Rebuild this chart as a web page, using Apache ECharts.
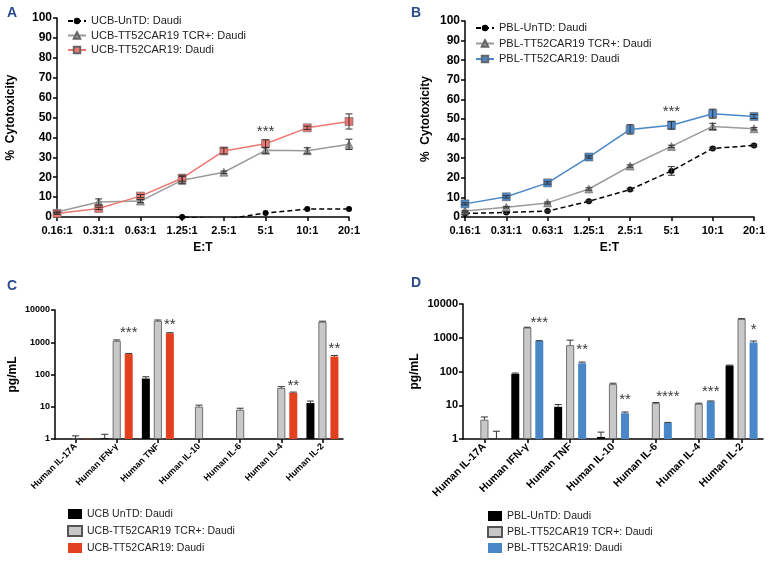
<!DOCTYPE html>
<html><head><meta charset="utf-8">
<script src="https://cdn.jsdelivr.net/npm/echarts@6/dist/echarts.min.js"></script>
<style>html,body{margin:0;padding:0;background:#fff}#c{width:773px;height:562px}</style>
</head><body><div id="c"></div>
<script>
// ---------- data ----------
const ratios = ['0.16:1','0.31:1','0.63:1','1.25:1','2.5:1','5:1','10:1','20:1'];
// Panel A (UCB)
const aUnTD    = [-4, -6, -3, 0, -1.2, 2, 4, 4];
const aTCR     = [2.5, 7.5, 8, 18.5, 22.5, 33.5, 33.3, 36.5];
const aTCRerr  = [0.5, 1.6, 0.8, 1.8, 0.6, 1.5, 1.5, 2.6];
const aCAR     = [1.8, 4.3, 10.5, 19.5, 33.2, 36.8, 44.8, 48];
const aCARerr  = [0.5, 0.6, 0.8, 1.5, 1.5, 2, 0.8, 3.8];
const aStars   = [{cat: 5, value: 43, text: '***'}];
// Panel B (PBL)
const bUnTD    = [1.8, 2.3, 3, 8, 14, 23.5, 35, 36.5];
const bUnTDerr = [0.4, 0.5, 0.4, 0.5, 0.6, 2.2, 0.6, 0.6];
const bTCR     = [3, 5, 7.2, 14.3, 26, 36, 46.2, 45];
const bTCRerr  = [0.4, 0.4, 0.5, 0.6, 0.6, 0.6, 1.6, 0.6];
const bCAR     = [6.7, 10.3, 17.4, 30.6, 44.7, 46.8, 52.7, 51.3];
const bCARerr  = [0.5, 0.6, 0.6, 0.6, 2.4, 2, 2.3, 1];
const bStars   = [{cat: 5, value: 53.5, text: '***'}];
// Panels C & D (cytokines, pg/mL)
const cytokines = ['Human IL-17A','Human IFN-γ','Human TNF','Human IL-10','Human IL-6','Human IL-4','Human IL-2'];
const cUnTD    = [null, 1.05, 75, null, null, null, 13];
const cUnTDerr = [null, 0.35, 10, null, null, null, 2];
const cTCR     = [1.02, 1100, 4600, 10, 8, 38, 4300];
const cTCRerr  = [0.23, 80, 300, 1.2, 1, 4, 200];
const cCAR     = [1.03, 430, 1900, null, null, 27, 360];
const cCARerr  = [null, 20, 80, null, null, 1.5, 30];
const cStars   = [{cat: 1, value: 1900, text: '***'}, {cat: 2, value: 3400, text: '**'}, {cat: 5, value: 44, text: '**'}, {cat: 6, value: 620, text: '**'}];
const dUnTD    = [null, 85, 9, 1.15, null, null, 150];
const dUnTDerr = [null, 5, 1.5, 0.45, null, null, 5];
const dTCR     = [3.7, 2000, 600, 42, 11.5, 11, 3600];
const dTCRerr  = [0.8, 50, 250, 3, 0.5, 0.5, 80];
const dCAR     = [1.0, 800, 175, 5.8, 3.0, 13, 720];
const dCARerr  = [0.7, 20, 15, 0.5, 0.1, 0.4, 80];
const dStars   = [{cat: 1, value: 2750, text: '***'}, {cat: 2, value: 435, text: '**'}, {cat: 3, value: 14, text: '**'}, {cat: 4, value: 17.6, text: '****'}, {cat: 5, value: 24.7, text: '***'}, {cat: 6, value: 1700, text: '*'}];

// names
const nA = ['UCB-UnTD: Daudi', 'UCB-TT52CAR19 TCR+: Daudi', 'UCB-TT52CAR19: Daudi'];
const nB = ['PBL-UnTD: Daudi', 'PBL-TT52CAR19 TCR+: Daudi', 'PBL-TT52CAR19: Daudi'];
const nC = ['UCB UnTD: Daudi', 'UCB-TT52CAR19 TCR+: Daudi ', 'UCB-TT52CAR19: Daudi '];
const nD = ['PBL-UnTD: Daudi ', 'PBL-TT52CAR19 TCR+: Daudi ', 'PBL-TT52CAR19: Daudi '];

// ---------- styles ----------
const FF = 'Liberation Sans, Arial, sans-serif';
const RED_L = '#ec7770', RED_B = '#e2401f', BLUE = '#4a87c8', GRAY_L = '#9a9a9a', GRAY_B = '#c8c8c8';
const BAR_W = 8, BAR_OFF = 12;

function axisBase(fs) {
  return {
    axisLine: {show: true, lineStyle: {color: '#000', width: 1.5}},
    axisTick: {show: true, length: 4, lineStyle: {color: '#000', width: 1.5}},
    axisLabel: {color: '#000', fontWeight: 'bold', fontFamily: FF, fontSize: fs},
    splitLine: {show: false}
  };
}

function errSeries(ax, vals, errs, offset, both) {
  const data = [];
  vals.forEach((v, i) => {
    if (v == null || errs[i] == null) return;
    data.push([i, both ? v - errs[i] : v, v + errs[i]]);
  });
  return {
    type: 'custom', xAxisIndex: ax, yAxisIndex: ax, z: 6, silent: true,
    encode: {x: 0, y: [1, 2]},
    renderItem(params, api) {
      const x = api.value(0);
      const lo = api.coord([x, api.value(1)]);
      const hi = api.coord([x, api.value(2)]);
      const cx = lo[0] + offset, w = 3.5;
      const st = {stroke: '#333', lineWidth: 1};
      const ch = [
        {type: 'line', shape: {x1: cx, y1: lo[1], x2: cx, y2: hi[1]}, style: st},
        {type: 'line', shape: {x1: cx - w, y1: hi[1], x2: cx + w, y2: hi[1]}, style: st}
      ];
      if (both) ch.push({type: 'line', shape: {x1: cx - w, y1: lo[1], x2: cx + w, y2: lo[1]}, style: st});
      return {type: 'group', children: ch};
    },
    data
  };
}

function starSeries(ax, stars, offset) {
  return {
    type: 'scatter', xAxisIndex: ax, yAxisIndex: ax, symbolSize: 1, silent: true, z: 7,
    itemStyle: {color: 'rgba(0,0,0,0)'},
    data: stars.map(s => ({value: [s.cat, s.value], label: {formatter: s.text}})),
    label: {show: true, position: 'inside', offset: [offset, 0], color: '#000', fontSize: 15, fontFamily: FF}
  };
}

function lineSeries(ax, name, vals, color, symbol, size, dashed) {
  return {
    type: 'line', name, xAxisIndex: ax, yAxisIndex: ax, data: vals, clip: true,
    symbol, symbolSize: size, showAllSymbol: true,
    lineStyle: {color, width: 1.5, type: dashed ? [5, 3] : 'solid'},
    itemStyle: {color, borderColor: dashed ? color : '#666', borderWidth: dashed ? 0 : 0.6},
    z: 4
  };
}

function barSeries(ax, name, vals, color, border) {
  return {
    type: 'bar', name, xAxisIndex: ax, yAxisIndex: ax, data: vals, barWidth: BAR_W, barGap: '50%',
    itemStyle: {color, borderColor: border || color, borderWidth: border ? 0.8 : 0},
    z: 3
  };
}

const gridA = {left: 57, top: 18, width: 292, height: 199};
const gridB = {left: 465, top: 21, width: 289, height: 196};
const gridC = {left: 55, top: 310, width: 288, height: 129};
const gridD = {left: 463, top: 304, width: 300, height: 135};

function catLine(gi) {
  return Object.assign(axisBase(11), {
    type: 'category', gridIndex: gi, data: ratios, boundaryGap: false,
    name: 'E:T', nameLocation: 'middle', nameGap: 25,
    nameTextStyle: {color: '#000', fontWeight: 'bold', fontFamily: FF, fontSize: 12},
  });
}
function valLine(gi, gap) {
  const b = axisBase(12);
  b.axisLabel.margin = 5;
  return Object.assign(b, {
    type: 'value', gridIndex: gi, min: 0, max: 100, interval: 10,
    name: '%  Cytotoxicity', nameLocation: 'middle', nameGap: gap,
    nameTextStyle: {color: '#000', fontWeight: 'bold', fontFamily: FF, fontSize: 12},
  });
}
function catBar(gi, fs) {
  const b = axisBase(fs);
  b.axisTick.alignWithLabel = true;
  b.axisLabel.rotate = 45; b.axisLabel.interval = 0; b.axisLabel.margin = 6;
  return Object.assign(b, {type: 'category', gridIndex: gi, data: cytokines});
}
function logBar(gi, fs, gap) {
  const b = axisBase(fs);
  b.axisLabel.margin = 5;
  b.axisLabel.formatter = v => String(Math.round(v));
  b.minorTick = {show: false};
  return Object.assign(b, {
    type: 'log', logBase: 10, gridIndex: gi, min: 1, max: 10000,
    name: 'pg/mL', nameLocation: 'middle', nameGap: gap,
    nameTextStyle: {color: '#000', fontWeight: 'bold', fontFamily: FF, fontSize: 12},
  });
}

function legendCfg(names, left, top, gap, fs, line) {
  return {
    data: names, orient: 'vertical', left, top, width: 300, height: 80, itemGap: gap, selectedMode: false,
    itemWidth: line ? 18 : 14, itemHeight: line ? 8 : 10, icon: line ? undefined : 'rect',
    textStyle: {fontSize: fs, fontFamily: FF, color: '#222', lineHeight: 12}
  };
}

const option = {
  backgroundColor: '#fff',
  animation: false,
  grid: [gridA, gridB, gridC, gridD],
  xAxis: [catLine(0), catLine(1), catBar(2, 9), catBar(3, 10.5)],
  yAxis: [valLine(0, 40), valLine(1, 33), logBar(2, 9, 36), logBar(3, 11, 42)],
  legend: [
    legendCfg(nA, 62, 10, 2.5, 11, true),
    legendCfg(nB, 470, 17, 3.5, 11, true),
    legendCfg(nC, 62, 503, 5, 10.5, false),
    legendCfg(nD, 482, 505, 4, 10.5, false)
  ],
  graphic: [
    {type: 'text', left: 7, top: 6, style: {text: 'A', fontSize: 14, fontWeight: 'bold', fill: '#2b4b8c', fontFamily: FF}},
    {type: 'text', left: 411, top: 6, style: {text: 'B', fontSize: 14, fontWeight: 'bold', fill: '#2b4b8c', fontFamily: FF}},
    {type: 'text', left: 7, top: 279, style: {text: 'C', fontSize: 14, fontWeight: 'bold', fill: '#2b4b8c', fontFamily: FF}},
    {type: 'text', left: 411, top: 276, style: {text: 'D', fontSize: 14, fontWeight: 'bold', fill: '#2b4b8c', fontFamily: FF}}
  ],
  series: [
    // A
    lineSeries(0, nA[0], aUnTD, '#000', 'circle', 6, true),
    lineSeries(0, nA[1], aTCR, GRAY_L, 'triangle', 8, false),
    lineSeries(0, nA[2], aCAR, RED_L, 'rect', 8, false),
    errSeries(0, aTCR, aTCRerr, 0, true),
    errSeries(0, aCAR, aCARerr, 0, true),
    starSeries(0, aStars, 0),
    // B
    lineSeries(1, nB[0], bUnTD, '#000', 'circle', 6, true),
    lineSeries(1, nB[1], bTCR, GRAY_L, 'triangle', 8, false),
    lineSeries(1, nB[2], bCAR, BLUE, 'rect', 8, false),
    errSeries(1, bUnTD, bUnTDerr, 0, true),
    errSeries(1, bTCR, bTCRerr, 0, true),
    errSeries(1, bCAR, bCARerr, 0, true),
    starSeries(1, bStars, 0),
    // C
    barSeries(2, nC[0], cUnTD, '#000'),
    barSeries(2, nC[1], cTCR, GRAY_B, '#555'),
    barSeries(2, nC[2], cCAR, RED_B),
    errSeries(2, cUnTD, cUnTDerr, -BAR_OFF, false),
    errSeries(2, cTCR, cTCRerr, 0, false),
    errSeries(2, cCAR, cCARerr, BAR_OFF, false),
    starSeries(2, cStars, BAR_OFF),
    // D
    barSeries(3, nD[0], dUnTD, '#000'),
    barSeries(3, nD[1], dTCR, GRAY_B, '#555'),
    barSeries(3, nD[2], dCAR, BLUE),
    errSeries(3, dUnTD, dUnTDerr, -BAR_OFF, false),
    errSeries(3, dTCR, dTCRerr, 0, false),
    errSeries(3, dCAR, dCARerr, BAR_OFF, false),
    starSeries(3, dStars, BAR_OFF)
  ]
};
const chart = echarts.init(document.getElementById('c'), null, {renderer: 'canvas'});
chart.setOption(option);
</script></body></html>
